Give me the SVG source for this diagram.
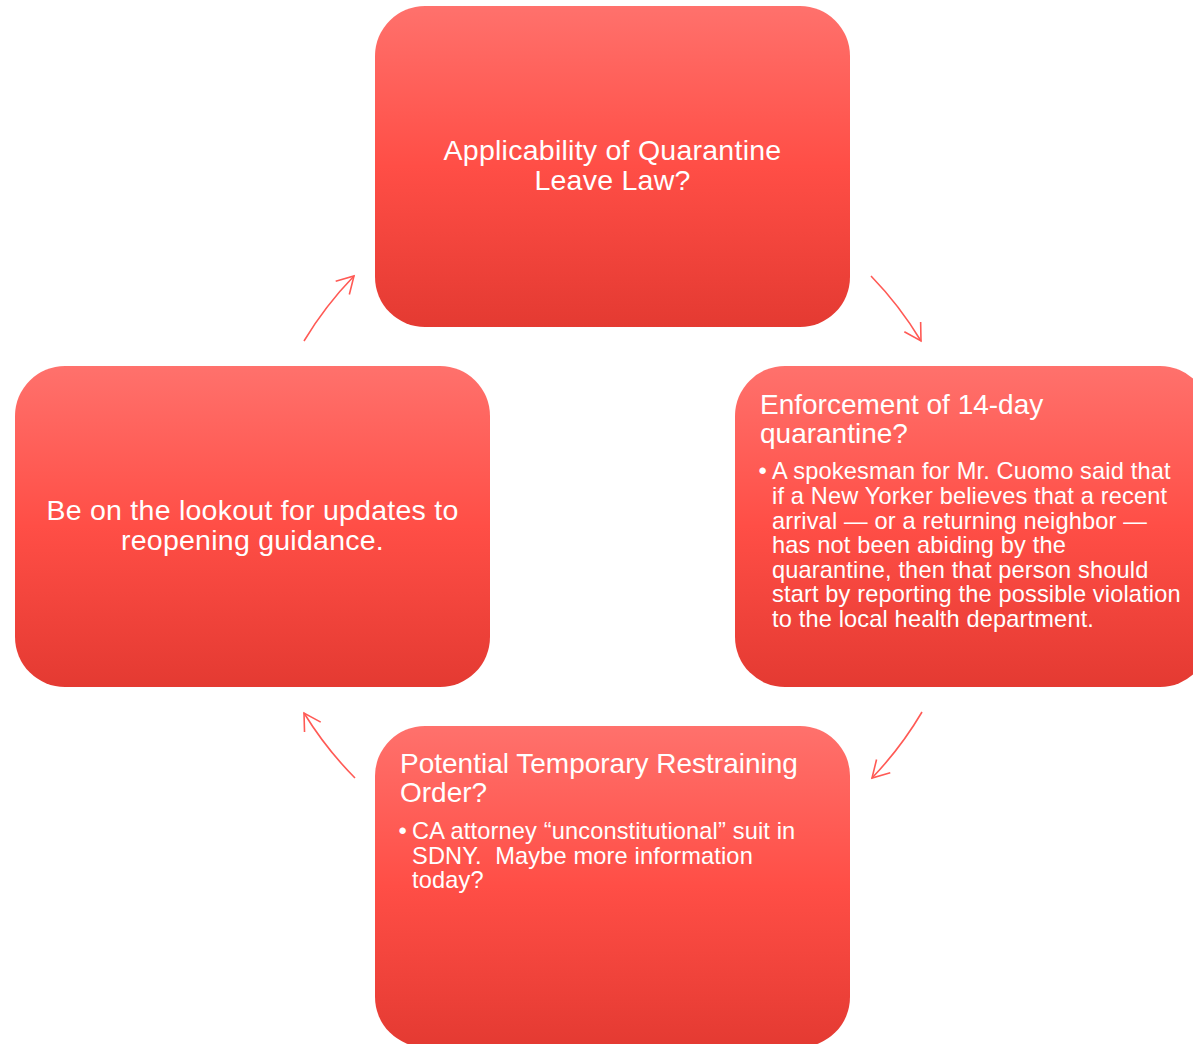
<svg xmlns="http://www.w3.org/2000/svg" width="1193" height="1044" viewBox="0 0 1193 1044">
<style>
.box{fill:url(#g);}
.t{font-family:"Liberation Sans",Arial,sans-serif;fill:#fff;}
.h{font-size:28px;}
.hc{font-size:28.5px;letter-spacing:0.25px;text-anchor:middle;}
.b{font-size:23.6px;letter-spacing:0.15px;}
.arr{fill:none;stroke:#FF5A55;stroke-width:1.6;marker-end:url(#ah);}
</style>
<defs>
<linearGradient id="g" x1="0" y1="0" x2="0" y2="1">
<stop offset="0" stop-color="#FF716C"/>
<stop offset="0.5" stop-color="#FF4E46"/>
<stop offset="1" stop-color="#E43A32"/>
</linearGradient>
<marker id="ah" markerUnits="userSpaceOnUse" orient="auto" refX="0" refY="0" markerWidth="20" markerHeight="20" overflow="visible">
<path d="M-16.5,-9.5 L0,0 L-16.5,9.5" fill="none" stroke="#FF5A55" stroke-width="1.6"/>
</marker>
</defs>
<rect width="1193" height="1044" fill="#fff"/>
<g id="node-top">
<rect class="box" x="375" y="6" width="475" height="321" rx="50" ry="50"/>
<text class="t hc" x="612.5" y="159.5">Applicability of Quarantine</text>
<text class="t hc" x="612.5" y="190.3">Leave Law?</text>
</g>
<g id="node-right">
<rect class="box" x="735" y="366" width="475" height="321" rx="50" ry="50"/>
<text class="t h" x="760" y="414">Enforcement of 14-day</text>
<text class="t h" x="760" y="442.7">quarantine?</text>
<text class="t b" x="758.5" y="479.3">•</text>
<text class="t b" x="772" y="479.3">A spokesman for Mr. Cuomo said that</text>
<text class="t b" x="772" y="503.9">if a New Yorker believes that a recent</text>
<text class="t b" x="772" y="528.5">arrival — or a returning neighbor —</text>
<text class="t b" x="772" y="553.1">has not been abiding by the</text>
<text class="t b" x="772" y="577.7">quarantine, then that person should</text>
<text class="t b" x="772" y="602.3">start by reporting the possible violation</text>
<text class="t b" x="772" y="626.9">to the local health department.</text>
</g>
<g id="node-bottom">
<rect class="box" x="375" y="726" width="475" height="321" rx="50" ry="50"/>
<text class="t h" x="400" y="773.3">Potential Temporary Restraining</text>
<text class="t h" x="400" y="801.8">Order?</text>
<text class="t b" x="398.5" y="839.3">•</text>
<text class="t b" x="412" y="839.3">CA attorney “unconstitutional” suit in</text>
<text class="t b" x="412" y="863.6">SDNY.&#160; Maybe more information</text>
<text class="t b" x="412" y="887.9">today?</text>
</g>
<g id="node-left">
<rect class="box" x="15" y="366" width="475" height="321" rx="50" ry="50"/>
<text class="t hc" x="252.5" y="519.5">Be on the lookout for updates to</text>
<text class="t hc" x="252.5" y="550.3">reopening guidance.</text>
</g>
<g id="connectors">
<path class="arr" d="M304,341 A360,360 0 0 1 354,276"/>
<path class="arr" d="M871,276 A360,360 0 0 1 921,341"/>
<path class="arr" d="M922,712 A360,360 0 0 1 872,778"/>
<path class="arr" d="M355,778 A360,360 0 0 1 304,713"/>
</g>
</svg>
